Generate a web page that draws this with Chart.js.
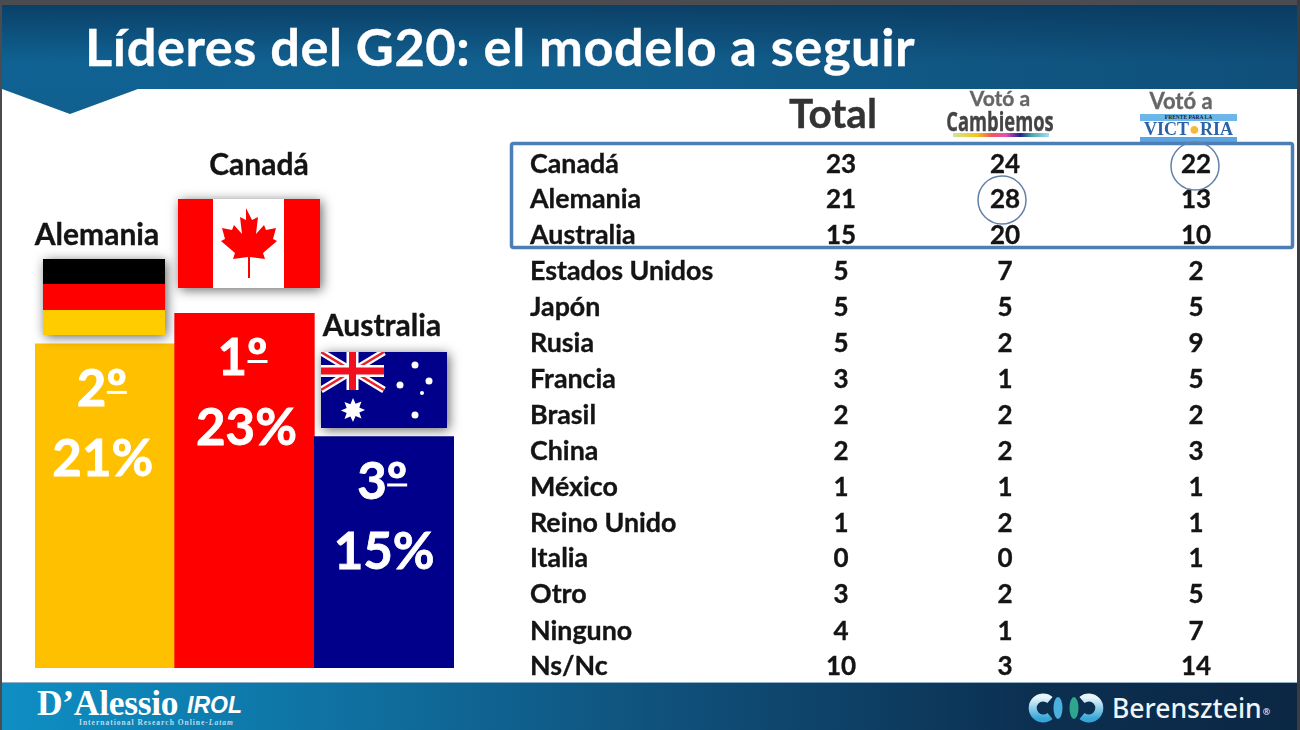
<!DOCTYPE html>
<html lang="es"><head><meta charset="utf-8">
<script src="https://cdn.jsdelivr.net/npm/chart.js@4"></script>
<style>
html,body{margin:0;padding:0;background:#fff}
#page{position:relative;width:1300px;height:730px;overflow:hidden;background:#fff;font-family:Lato,"Open Sans",sans-serif;font-weight:700;color:#141414;-webkit-text-stroke:.35px currentColor;filter:blur(.35px)}
#page>*{position:absolute}
canvas{left:0;top:0}
#top{left:0;top:0;width:1300px;height:89px;background:linear-gradient(90deg,#0f6293 0%,#125f8e 45%,#0f4f7a 100%)}
#topfade{left:0;top:0;width:1300px;height:89px;background:linear-gradient(180deg,rgba(8,50,85,.75) 0%,rgba(8,50,85,0) 70%)}
#title{left:85px;top:14px;font-size:52.4px;line-height:64px;color:#fff;white-space:nowrap;letter-spacing:.55px}
#chev{left:0;top:88px}
#frameT{left:0;top:0;width:1300px;height:5px;background:#4a4c4f}
#frameL{left:0;top:0;width:2px;height:730px;background:#4a4c4f}
#frameR{left:1297px;top:0;width:3px;height:730px;background:#3a3c3f}
#foot{left:0;top:682px;width:1300px;height:48px;border-top:1px solid #8fb0c8;box-sizing:border-box;background:linear-gradient(90deg,#0e8fc4 0%,#0f6f9f 28%,#0f4c75 55%,#0c2f50 80%,#0b2744 100%)}
.name,.num{line-height:36px;height:36px;white-space:nowrap}
.name{font-size:26.8px;left:530px;margin-top:-1px}
.num{font-size:26px;width:80px;text-align:center;margin-top:-1px}
.big{font-size:30px;line-height:32px;white-space:nowrap}
.flag{filter:drop-shadow(2px 2px 6px rgba(0,0,0,.6))}
.cap{transform:translateX(-50%);white-space:nowrap}
</style></head>
<body><div id="page">
<div id="top"></div><div id="topfade"></div>
<div id="title">Líderes del G20: el modelo a seguir</div>
<svg id="chev" width="150" height="30"><polygon points="2,1 138,1 70,26" fill="#10618f"/></svg>
<canvas id="c" width="1300" height="730"></canvas>

<svg class="flag" style="left:178px;top:199px" width="142" height="89" viewBox="0 0 142 89">
<rect width="142" height="89" fill="#fff"/><rect width="35" height="89" fill="#f00"/><rect x="106" width="36" height="89" fill="#f00"/>
<path transform="translate(-3,0)" fill="#f00" d="M71 9l6 12 6-3-2 17 8-9 2 5 10-2-3 11 4 2-14 12 2 6-15-2v21h-2V58l-15 2 2-6-14-12 4-2-3-11 10 2 2-5 8 9-2-17 6 3z"/>
</svg>
<svg class="flag" style="left:43px;top:259px" width="122" height="76" viewBox="0 0 122 76">
<rect width="122" height="25.500" fill="#000"/><rect y="25" width="122" height="26" fill="#f00"/><rect y="51" width="122" height="25" fill="#fc0"/>
</svg>
<svg class="flag" style="left:321px;top:352px" width="126" height="76" viewBox="0 0 126 76">
<rect width="126" height="76" fill="#00008b"/>
<g><path d="M0 0L63 38M63 0L0 38" stroke="#fff" stroke-width="7"/><path d="M0 0L63 38M63 0L0 38" stroke="#e8212b" stroke-width="2.500"/>
<path d="M31.500 0V38M0 19H63" stroke="#fff" stroke-width="12"/><path d="M31.500 0V38M0 19H63" stroke="#f01020" stroke-width="7"/></g>
<g fill="#fff"><path d="M32 46l2.600 5.800 5.900-2.400-2.200 6 5.800 2.500-5.800 2.500 2.200 6-5.900-2.400L32 70l-2.600-5.500-5.900 2.400 2.200-6-5.800-2.500 5.800-2.500-2.200-6 5.900 2.400z"/>
<circle cx="94" cy="13" r="3.500"/><circle cx="79" cy="33" r="3.500"/><circle cx="108" cy="29" r="3.500"/><circle cx="101" cy="41" r="2"/><circle cx="94" cy="63" r="3.500"/></g>
</svg>
<div class="big cap" style="left:259px;top:147px;">Canadá</div>
<div class="big cap" style="left:97px;top:217px;">Alemania</div>
<div class="big cap" style="left:382px;top:308px;">Australia</div>

<div id="rows"></div>

<div style="left:833px;top:90px;font-size:40.5px;line-height:46px;color:#333;transform:translateX(-50%)">Total</div>
<div style="left:1000px;top:87px;font-size:21px;line-height:22px;color:#666;transform:translateX(-50%);white-space:nowrap">Votó a</div>
<div style="left:1000px;top:105px;font-size:27px;line-height:32px;color:#444;transform:translateX(-50%) scaleX(.68);white-space:nowrap;font-family:'Open Sans'">Cambiemos</div>
<div style="left:953px;top:133px;width:96px;height:4px;background:linear-gradient(90deg,#cfe3a0,#f5c518 25%,#ee5a5a 40%,#ea4fb0 55%,#20208f 70%,#4aa7a7 82%,#a8dcf5)"></div>
<div style="left:1181px;top:90px;font-size:22px;line-height:22px;color:#666;transform:translateX(-50%);white-space:nowrap">Votó a</div>
<div style="left:1140px;top:114px;width:97px;height:7px;background:#6db6ea;color:#123;font:700 5.500px/7px 'Liberation Serif';text-align:center;-webkit-text-stroke:0">FRENTE PARA LA</div>
<div style="left:1140px;top:119px;width:97px;text-align:center;font:700 18px/20px 'Liberation Serif';color:#2a62a8;white-space:nowrap;-webkit-text-stroke:0">VICT<span style="color:#f6b73c">●</span>RIA</div>
<div style="left:1140px;top:137px;width:97px;height:5px;background:#5ba5e2"></div>

<svg style="left:505px;top:138px" width="795" height="116">
<rect x="6.500" y="5.500" width="781" height="104" rx="2" fill="none" stroke="#4d7db5" stroke-width="3.500"/>
<circle cx="690" cy="28" r="24" fill="none" stroke="#6480a8" stroke-width="1.500"/>
<circle cx="497" cy="62" r="24" fill="none" stroke="#6480a8" stroke-width="1.500"/>
</svg>

<div id="foot"></div>
<div style="left:37px;top:683px;font:700 36px/40px 'Liberation Serif';color:#fff;letter-spacing:-.3px;white-space:nowrap;transform:scaleX(.985);transform-origin:left;-webkit-text-stroke:0">D’Alessio</div>
<div style="left:187px;top:692px;font:italic 700 23px/26px 'Liberation Sans';color:#fff;white-space:nowrap;-webkit-text-stroke:0">IROL</div>
<div style="left:79px;top:718px;font:700 7.500px/10px 'Liberation Serif';color:#bcdcec;letter-spacing:1px;white-space:nowrap;-webkit-text-stroke:0">International Research Online-<i>Latam</i></div>
<svg style="left:1028px;top:693px" width="76" height="30" viewBox="0 0 76 30">
<defs><linearGradient id="g" x1="0" y1="0" x2="0" y2="1"><stop offset="0" stop-color="#e8f6fc"/><stop offset="1" stop-color="#38a5d8"/></linearGradient></defs>
<path d="M22 7a10.500 10.500 0 1 0 0 16" fill="none" stroke="url(#g)" stroke-width="8"/>
<path d="M54 7a10.500 10.500 0 1 1 0 16" fill="none" stroke="url(#g)" stroke-width="8"/>
<ellipse cx="30" cy="15" rx="4.500" ry="11" fill="#4bb0dd"/><ellipse cx="46" cy="15" rx="4.500" ry="11" fill="#2fa58f"/>
</svg>
<div style="left:1112px;top:691px;font:500 26.500px/34px 'Noto Sans','Open Sans';color:#eef4f8;white-space:nowrap;-webkit-text-stroke:0">Berensztein<span style="font-size:9px;vertical-align:3px;margin-left:1px">®</span></div>

<div id="frameT"></div><div id="frameL"></div><div id="frameR"></div>
</div>
<script>
// Bars (ordered left to right as in the picture)
const barCountries = ['Alemania', 'Canadá', 'Australia'];
const barValues = [21, 23, 15];
const barRanks = ['2º', '1º', '3º'];
const barColors = ['#ffc000', '#ff0000', '#00008b'];

// Table
const tableCountries = ['Canadá','Alemania','Australia','Estados Unidos','Japón','Rusia','Francia','Brasil','China','México','Reino Unido','Italia','Otro','Ninguno','Ns/Nc'];
const totalValues     = [23,21,15,5,5,5,3,2,2,1,1,0,3,4,10];
const cambiemosValues = [24,28,20,7,5,2,1,2,2,1,2,0,2,1,3];
const victoriaValues  = [22,13,10,2,5,9,5,2,3,1,1,1,5,7,14];

const rowCentres = [164,199,235,271,307,343,379,415,451,487,523,558,594,631,666];
const rows = document.getElementById('rows');
rows.style.cssText = 'left:0;top:0';
tableCountries.forEach((name, i) => {
  const top = rowCentres[i] - 18;
  const add = (cls, txt, left) => {
    const d = document.createElement('div');
    d.className = cls; d.textContent = txt;
    d.style.position = 'absolute'; d.style.top = top + 'px';
    if (left) d.style.left = left + 'px';
    rows.appendChild(d);
  };
  add('name', name);
  add('num', totalValues[i], 801);
  add('num', cambiemosValues[i], 965);
  add('num', victoriaValues[i], 1156);
});

const pctShift = [-2, 2, 0];
const rankShift = [-3, -2, -2];
const barLabels = {
  id: 'barLabels',
  afterDatasetsDraw(chart) {
    const { ctx } = chart;
    const meta = chart.getDatasetMeta(0);
    ctx.save();
    ctx.fillStyle = '#fff';
    ctx.strokeStyle = '#fff';
    ctx.lineWidth = 0.8;
    ctx.textAlign = 'center';
    ctx.textBaseline = 'middle';
    ctx.font = '700 51px Lato, "Open Sans", sans-serif';
    meta.data.forEach((bar, i) => {
      const rx = bar.x + rankShift[i], px = bar.x + pctShift[i];
      const rankY = bar.y + 46, pctY = bar.y + 116;
      ctx.fillText(barRanks[i], rx, rankY);
      ctx.strokeText(barRanks[i], rx, rankY);
      ctx.fillText(barValues[i] + '%', px, pctY);
      ctx.strokeText(barValues[i] + '%', px, pctY);
      // the ordinal sign is underlined in the reference
      const w = ctx.measureText(barRanks[i]).width;
      ctx.fillRect(rx + w / 2 - 20, rankY + 1, 20, 3);
    });
    ctx.restore();
  }
};

new Chart(document.getElementById('c'), {
  type: 'bar',
  data: {
    labels: barCountries,
    datasets: [{ data: barValues, backgroundColor: barColors, borderWidth: 0, categoryPercentage: 1, barPercentage: 1 }]
  },
  options: {
    responsive: false,
    animation: false,
    layout: { padding: { left: 35, right: 846, top: 313, bottom: 62 } },
    plugins: { legend: { display: false }, tooltip: { enabled: false } },
    scales: {
      x: { display: false },
      y: { display: false, min: 0, max: 23 }
    }
  },
  plugins: [barLabels]
});
</script>
</body></html>
